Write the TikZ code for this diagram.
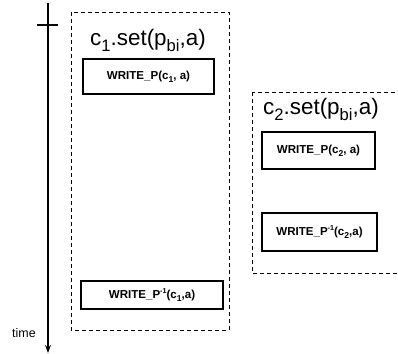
\documentclass[tikz,border=0pt]{standalone}
\usepackage{fontspec}
\setmainfont{Liberation Sans}
\usepackage{graphicx}
\usetikzlibrary{arrows.meta}
\newcommand\mysb[1]{\raisebox{-0.28em}{\scalebox{0.74}{#1}}}
\newcommand\mysp[1]{\raisebox{0.42em}{\scalebox{0.62}{#1}}}
\begin{document}
\begin{tikzpicture}[x=1bp,y=-1bp,
  groupbox/.style={draw, dashed, dash pattern=on 4bp off 3bp, line width=0.9bp},
  opbox/.style={draw, line width=1.7bp, inner sep=0pt, font=\fontsize{11.6}{13}\selectfont\bfseries},
  grouptitle/.style={anchor=base west, inner sep=0pt, font=\fontsize{22.5}{26}\selectfont}]
\useasboundingbox (0,0) rectangle (398,354);
% time axis
\coordinate (ttop) at (48,3);
\coordinate (tbot) at (48,353);
\coordinate (tickl) at (37,25);
\coordinate (tickr) at (58,25);
\draw[line width=1.1bp, -{Stealth[length=8bp,width=6bp]}] (ttop) -- (tbot);
\draw[line width=2.8bp] (tickl) -- (tickr);
\node[font=\fontsize{12.5}{14}\selectfont] (time) at (24,333) {time};
% group boxes
\draw[groupbox] (71,12) rectangle (229,330);
\draw[groupbox] (252,92) rectangle (412,273);
\node[grouptitle] (t1) at (90,45) {c\mysb{1}.set(p\mysb{bi},a)};
\node[grouptitle] (t2) at (263,114) {c\mysb{2}.set(p\mysb{bi},a)};
% operation boxes
\node[opbox, minimum width=131bp, minimum height=35bp] (a) at (148.5,76.5) {WRITE\_P(c\mysb{1}, a)};
\node[opbox, minimum width=142bp, minimum height=28bp] (b) at (152,295) {WRITE\_P\mysp{-1}(c\mysb{1},a)};
\node[opbox, minimum width=113bp, minimum height=37bp] (c) at (318.5,150.5) {WRITE\_P(c\mysb{2}, a)};
\node[opbox, minimum width=115bp, minimum height=38bp] (d) at (319.5,232) {WRITE\_P\mysp{-1}(c\mysb{2},a)};
\end{tikzpicture}
\end{document}
